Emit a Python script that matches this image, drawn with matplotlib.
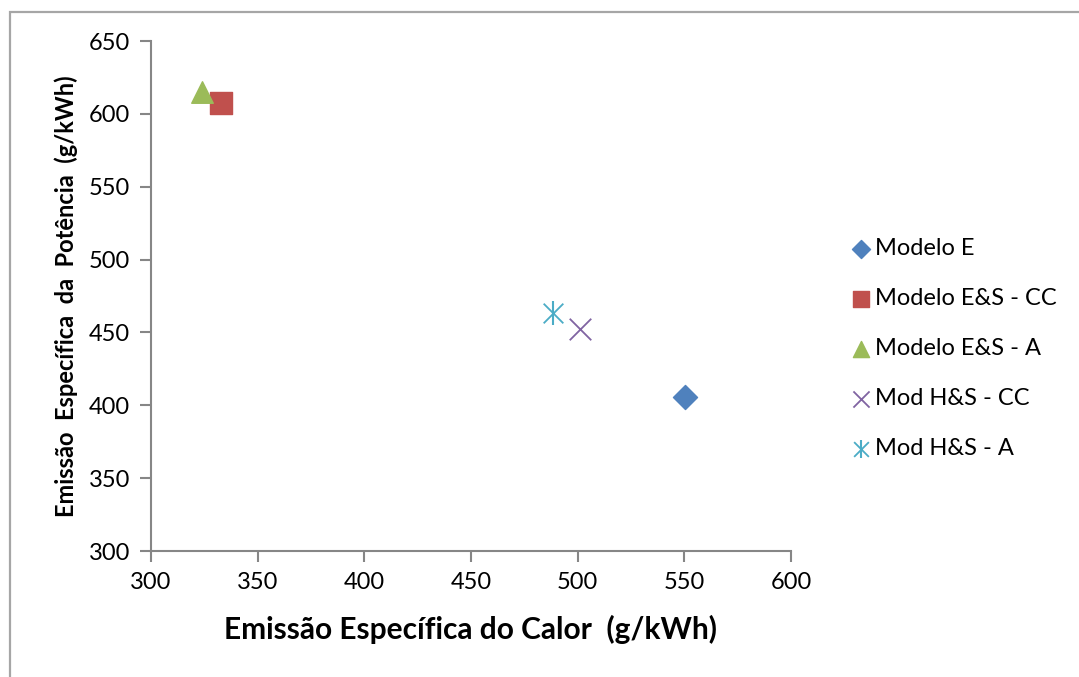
import matplotlib
matplotlib.use("Agg")
import matplotlib.pyplot as plt
from matplotlib.patches import Rectangle
from matplotlib.legend_handler import HandlerTuple

plt.rcParams['font.family'] = ['Lato', 'DejaVu Sans']

series = ["Modelo E", "Modelo E&S - CC", "Modelo E&S - A", "Mod H&S - CC", "Mod H&S - A"]
x_vals = [550.5, 332.8, 324.0, 501.0, 488.4]
y_vals = [406.0, 607.5, 615.0, 452.5, 463.5]
colors = ["#4F81BD", "#C0504D", "#9BBB59", "#8064A2", "#4BACC6"]
x_ticks = [300, 350, 400, 450, 500, 550, 600]
y_ticks = [300, 350, 400, 450, 500, 550, 600, 650]

W, H = 1079, 677
fig = plt.figure(figsize=(W / 100, H / 100), dpi=100)
ax = fig.add_axes([151 / W, 1 - 551 / H, 640 / W, 510 / H])

fig.patches.append(Rectangle((10 / W, -0.1), 1.2, 1 - 12 / H + 0.1, transform=fig.transFigure,
                             fill=False, edgecolor="#A6A6A6", linewidth=1.6, zorder=-1))

h0 = ax.scatter(x_vals[0], y_vals[0], marker="D", s=150, color=colors[0], zorder=3)
h1 = ax.scatter(x_vals[1], y_vals[1], marker="s", s=230, color=colors[1], zorder=3)
h2 = ax.scatter(x_vals[2], y_vals[2], marker="^", s=240, color=colors[2], zorder=3)
h3 = ax.scatter(x_vals[3], y_vals[3], marker="x", s=240, color=colors[3], linewidths=1.3, zorder=3)
h4a = ax.scatter(x_vals[4], y_vals[4], marker="x", s=200, color=colors[4], linewidths=1.3, zorder=3)
h4b = ax.scatter(x_vals[4], y_vals[4], marker="|", s=280, color=colors[4], linewidths=1.5, zorder=3)
handles = [h0, h1, h2, h3, (h4a, h4b)]

ax.set_xlim(300, 600)
ax.set_ylim(300, 650)
ax.set_xticks(x_ticks)
ax.set_yticks(y_ticks)
for s in ["top", "right"]:
    ax.spines[s].set_visible(False)
for s in ["left", "bottom"]:
    ax.spines[s].set_color("#868686")
    ax.spines[s].set_linewidth(1.5)
ax.tick_params(direction="out", length=8, width=1.5, color="#868686", labelsize=17,
               labelcolor="#000000", pad=7)

ax.set_xlabel("Emissão Específica do Calor  (g/kWh)", fontsize=21.5, fontweight="bold", labelpad=16)
ax.set_ylabel("Emissão  Específica  da  Potência  (g/kWh)", fontsize=17, fontweight="bold", labelpad=8)

leg = fig.legend(handles, series, loc="upper left", bbox_to_anchor=(844 / W, 1 - 231 / H),
                 frameon=False, fontsize=17, handletextpad=0.2, handlelength=0.8,
                 labelspacing=1.23, markerscale=0.75, borderaxespad=0, borderpad=0.3,
                 handler_map={tuple: HandlerTuple(ndivide=1)})

fig.savefig("out.png", dpi=100)
